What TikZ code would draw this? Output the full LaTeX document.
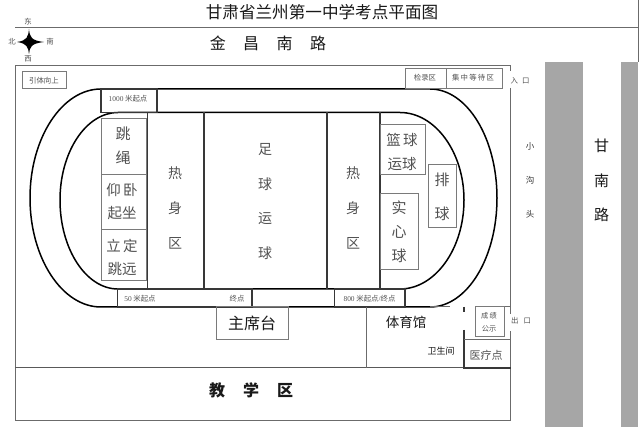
\documentclass[tikz,border=0pt]{standalone}
\usepackage{fontspec}
\setmainfont{Noto Sans CJK SC}
\newfontfamily\lat{Liberation Serif}
\tikzset{
  thin line/.style={draw=black!58,line width=1pt},
  dark line/.style={draw=black!78,line width=1.1pt},
  track/.style={draw=black,line width=1.5pt},
  boxline/.style={draw=black!52,line width=1pt},
  txt/.style={inner sep=0pt,align=center},
  big/.style={txt,font=\fontsize{15}{15}\selectfont,text=black!90},
  mid/.style={txt,font=\fontsize{14}{24}\selectfont,text=black!68},
  small/.style={txt,font=\fontsize{7.4}{7.4}\selectfont,text=black!68},
  road/.style={fill=black!35,draw=none},
}
\begin{document}
\begin{tikzpicture}[x=1pt,y=-1pt]
\useasboundingbox (0,0) rectangle (640,427);
\fill[white] (0,0) rectangle (640,427);
% roads
\fill[road] (544.5,62) rectangle (583,427);
\fill[road] (621,62) rectangle (638,427);
\draw[thin line] (638,0) -- (638,62);
% rules and site border
\draw[thin line] (15,27.5) -- (638,27.5);
\draw[thin line] (510.5,71) -- (510.5,65.5) -- (15,65.5) -- (15,421) -- (510.5,421) -- (510.5,331);
\draw[thin line] (510.5,88) -- (510.5,314);
\draw[draw=black!65,line width=1pt] (15,368) -- (464,368);
% tracks
\draw[track] (30,198) .. controls (30,138) and (62,89) .. (101,89) -- (430,89) .. controls (467,89) and (497,138) .. (497,198) .. controls (497,258) and (467,307) .. (430,307) -- (101,307) .. controls (62,307) and (30,258) .. (30,198) -- cycle;
\draw[track] (60,200) .. controls (60,152) and (86,112.5) .. (118,112.5) -- (400,112.5) .. controls (435,112.5) and (464,152) .. (464,200) .. controls (464,249) and (435,289) .. (400,289) -- (118,289) .. controls (86,289) and (60,249) .. (60,200) -- cycle;
% field dividers
\draw[dark line] (147.5,112.5) -- (147.5,289);
\draw[dark line] (204,112.5) -- (204,289);
\draw[dark line] (327,112.5) -- (327,289);
\draw[dark line] (380,112.5) -- (380,289);
% start boxes
\draw[dark line] (101,89) rectangle (157,112.5);
\draw[dark line] (117.5,289) rectangle (252,307);
\draw[dark line] (334.7,289) rectangle (405,307);
% station boxes
\draw[boxline] (101,119) rectangle (146,174.5);
\draw[boxline] (101,174.5) rectangle (146,230);
\draw[boxline] (101,230) rectangle (146,281);
\draw[boxline] (380,125) rectangle (425,175);
\draw[boxline,fill=white] (428,165) rectangle (456,228);
\draw[boxline] (380,194) rectangle (418,270);
\draw[boxline] (405,69) rectangle (446,89);
\draw[boxline] (446,69) rectangle (502,89);
\draw[boxline] (22,72) rectangle (66,89);
\draw[boxline] (216.5,307) rectangle (288,340);
% gym block
\draw[thin line] (430,307) -- (450,307);
\draw[thin line] (366.5,307) -- (366.5,368);
\draw[thin line] (476,307) -- (510.5,307);
\draw[dark line] (464,307) -- (464,312);
\draw[dark line] (464,330) -- (464,368) -- (510.5,368);
\draw[thin line] (464,339.5) -- (510.5,339.5);
\draw[boxline] (475.5,307) rectangle (504.5,337);
% compass
\fill[black] (29,29) .. controls (29.8,37) and (31,40.5) .. (44,42) .. controls (31,43.5) and (29.8,47) .. (29,54) .. controls (28.2,47) and (27,43.5) .. (17,42) .. controls (27,40.5) and (28.2,37) .. (29,29) -- cycle;
\node[small] (cE) at (28,22) {东};
\node[small] (cW) at (28,59) {西};
\node[small] (cN) at (12,42) {北};
\node[small] (cS) at (50,42) {南};
% titles
\node[txt,font=\fontsize{16.6}{18}\selectfont,text=black!90] (title) at (322,12) {甘肃省兰州第一中学考点平面图};
\node[big,font=\fontsize{16}{16}\selectfont] (jc) at (268,43) {金\hspace{17.5pt}昌\hspace{17.5pt}南\hspace{17.5pt}路};
\node[big,font=\bfseries\fontsize{16}{16}\selectfont] (jx) at (251,390) {教\hspace{18pt}学\hspace{18pt}区};
\node[big,font=\fontsize{16}{16}\selectfont] (zxt) at (252,323) {主席台};
\node[big,font=\fontsize{13.5}{14}\selectfont] (tyg) at (406,322) {体育馆};
\node[big,font=\fontsize{9}{9}\selectfont] (wsj) at (441,351) {卫生间};
\node[mid,font=\fontsize{11}{11}\selectfont] (ylq) at (486,355) {医疗点};
\node[small,font=\fontsize{7.2}{13}\selectfont] (cj) at (489,322.5) {成\,绩\\公示};
\node[small] (in) at (520,81) {入\hspace{4pt}口};
\node[small] (out) at (521,321) {出\hspace{5pt}口};
\node[small,font=\fontsize{8.5}{8.5}\selectfont,text=black!80] (x1) at (530,146) {小};
\node[small,font=\fontsize{8.5}{8.5}\selectfont,text=black!80] (x2) at (530,180) {沟};
\node[small,font=\fontsize{8.5}{8.5}\selectfont,text=black!80] (x3) at (530,214) {头};
\node[big] (g1) at (601.5,146) {甘};
\node[big] (g2) at (601.5,181) {南};
\node[big] (g3) at (601.5,215) {路};
% field labels
\node[mid] (z1) at (265,150) {足};
\node[mid] (z2) at (265,184) {球};
\node[mid] (z3) at (265,219) {运};
\node[mid] (z4) at (265,253) {球};
\node[mid] (r1) at (175,173) {热};
\node[mid] (r2) at (175,208) {身};
\node[mid] (r3) at (175,243) {区};
\node[mid] (s1) at (353,173) {热};
\node[mid] (s2) at (353,208) {身};
\node[mid] (s3) at (353,243) {区};
\node[mid,font=\fontsize{15}{24}\selectfont] (ts) at (123,146) {跳\\绳};
\node[mid,font=\fontsize{14.5}{23}\selectfont] (ywqz) at (122,201.5) {仰\,卧\\起坐};
\node[mid,font=\fontsize{14.5}{23}\selectfont] (ldty) at (122,257.5) {立\,定\\跳远};
\node[mid,font=\fontsize{14.5}{24}\selectfont] (lq) at (402,152) {篮\,球\\运球};
\node[mid,font=\fontsize{15}{34}\selectfont] (pq) at (442,197) {排\\球};
\node[mid,font=\fontsize{15}{24}\selectfont] (sxq) at (399,232) {实\\心\\球};
% small labels
\node[small] (m1000) at (128,99) {{\lat 1000} 米起点};
\node[small] (m50) at (140,298.5) {{\lat 50} 米起点};
\node[small] (m50e) at (237,298.5) {终点};
\node[small] (m800) at (369.5,298.5) {{\lat 800} 米起点{\lat /}终点};
\node[small] (jlq) at (425,78) {检录区};
\node[small] (jzq) at (473,78) {集\,中\,等\,待\,区};
\node[small] (ytxs) at (44,81) {引体向上};
\end{tikzpicture}
\end{document}
